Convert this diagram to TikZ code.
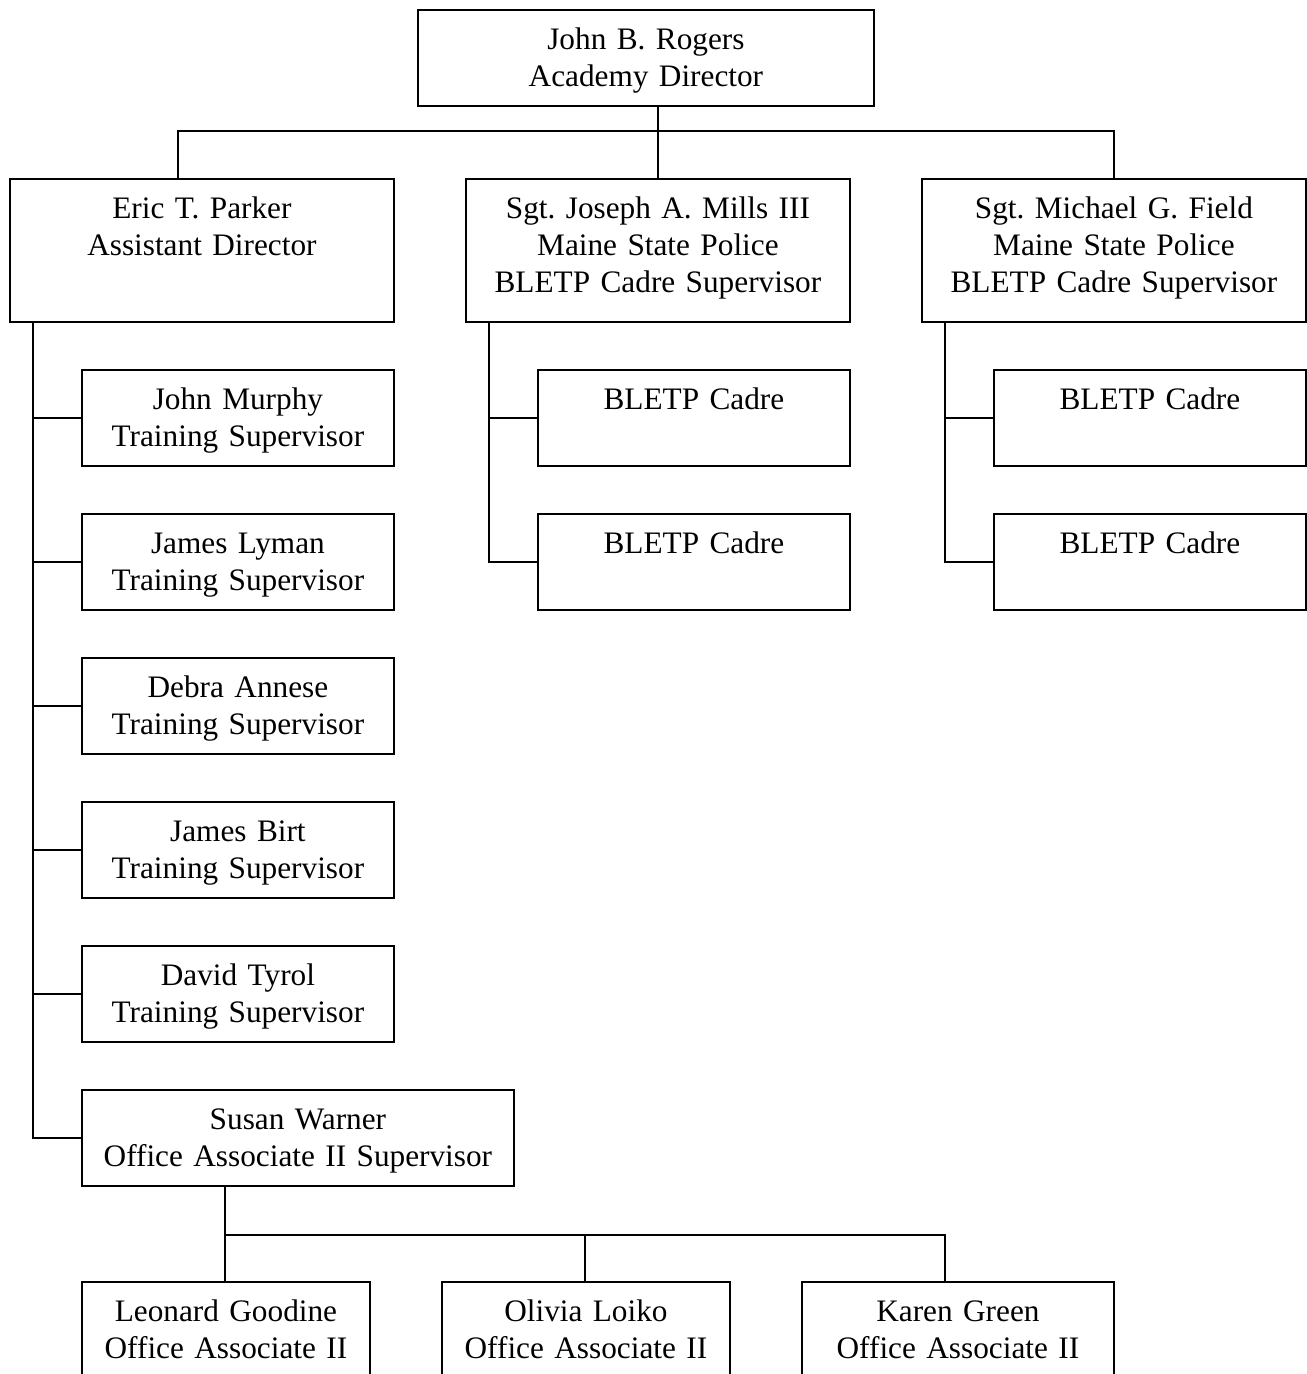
\documentclass[tikz,border=0pt]{standalone}
\usepackage{fontspec}
\setmainfont{Liberation Serif}
\frenchspacing
\begin{document}
\begin{tikzpicture}[x=0.02cm, y=-0.02cm, line width=1.1pt,
    post/.style={draw, anchor=north west, inner sep=0pt, align=center,
      text height=0.8cm, font=\fontsize{17.8}{21}\selectfont},
    short/.style={post, text width=#1, text depth=1.12cm},
    tall/.style={post, text width=#1, text depth=2.06cm}]
  \useasboundingbox (0,0) rectangle (1307,1374);
  \clip (0,0) rectangle (1307,1374);

  % Director and the three posts under him
  \node [short=9.12cm] (dir) at (417,9) {John B. Rogers\\Academy Director};
  \node [tall=7.68cm] (parker) at (9,178) {Eric T. Parker\\Assistant Director};
  \node [tall=7.68cm] (mills) at (465,178) {Sgt. Joseph A. Mills III\\Maine State Police\\BLETP Cadre Supervisor};
  \node [tall=7.68cm] (field) at (921,178) {Sgt. Michael G. Field\\Maine State Police\\BLETP Cadre Supervisor};

  % Drawing the top bus
  \path (dir.south) ++(0,24) coordinate (topbus);
  \coordinate (pdrop) at ([xshift=3.38cm]parker.north west);
  \draw (pdrop) -- (pdrop |- topbus) -- (field.north |- topbus) -- (field.north);
  \draw (mills.north |- dir.south) -- (mills.north);

  % Training supervisors
  \foreach \n/\who [count=\k from 0] in {murphy/John Murphy, lyman/James Lyman,
      annese/Debra Annese, birt/James Birt, tyrol/David Tyrol}
    \node [short=6.24cm] (\n) at (81,369+144*\k) {\who\\Training Supervisor};
  \node [short=8.64cm] (warner) at (81,1089) {Susan Warner\\Office Associate II Supervisor};

  % Drawing the spine under Parker
  \coordinate (pspine) at ([xshift=0.48cm]parker.south west);
  \draw (pspine) |- (warner.west);
  \foreach \n in {murphy, lyman, annese, birt, tyrol}
    \draw (\n.west) -- (\n.west -| pspine);

  % Cadre under Mills and Field
  \node [short=6.24cm] (mcadrea) at (537,369) {BLETP Cadre};
  \node [short=6.24cm] (mcadreb) at (537,513) {BLETP Cadre};
  \node [short=6.24cm] (fcadrea) at (993,369) {BLETP Cadre};
  \node [short=6.24cm] (fcadreb) at (993,513) {BLETP Cadre};
  \coordinate (mspine) at ([xshift=0.48cm]mills.south west);
  \coordinate (fspine) at ([xshift=0.48cm]field.south west);
  \draw (mspine) |- (mcadreb.west);
  \draw (mcadrea.west) -- (mcadrea.west -| mspine);
  \draw (fspine) |- (fcadreb.west);
  \draw (fcadrea.west) -- (fcadrea.west -| fspine);

  % Office associates
  \node [short=5.76cm] (goodine) at (81,1281) {Leonard Goodine\\Office Associate II};
  \node [short=5.76cm] (loiko) at (441,1281) {Olivia Loiko\\Office Associate II};
  \node [short=6.24cm] (green) at (801,1281) {Karen Green\\Office Associate II};

  % Drawing the bus under Warner
  \coordinate (wdrop) at ([xshift=2.88cm]warner.south west);
  \path (wdrop) ++(0,48) coordinate (obus);
  \coordinate (ldrop) at ([xshift=2.88cm]loiko.north west);
  \coordinate (gdrop) at ([xshift=2.88cm]green.north west);
  \draw (wdrop) -- ([xshift=2.88cm]goodine.north west);
  \draw (obus) -- (obus -| gdrop) -- (gdrop);
  \draw (ldrop) -- (ldrop |- obus);
\end{tikzpicture}
\end{document}
